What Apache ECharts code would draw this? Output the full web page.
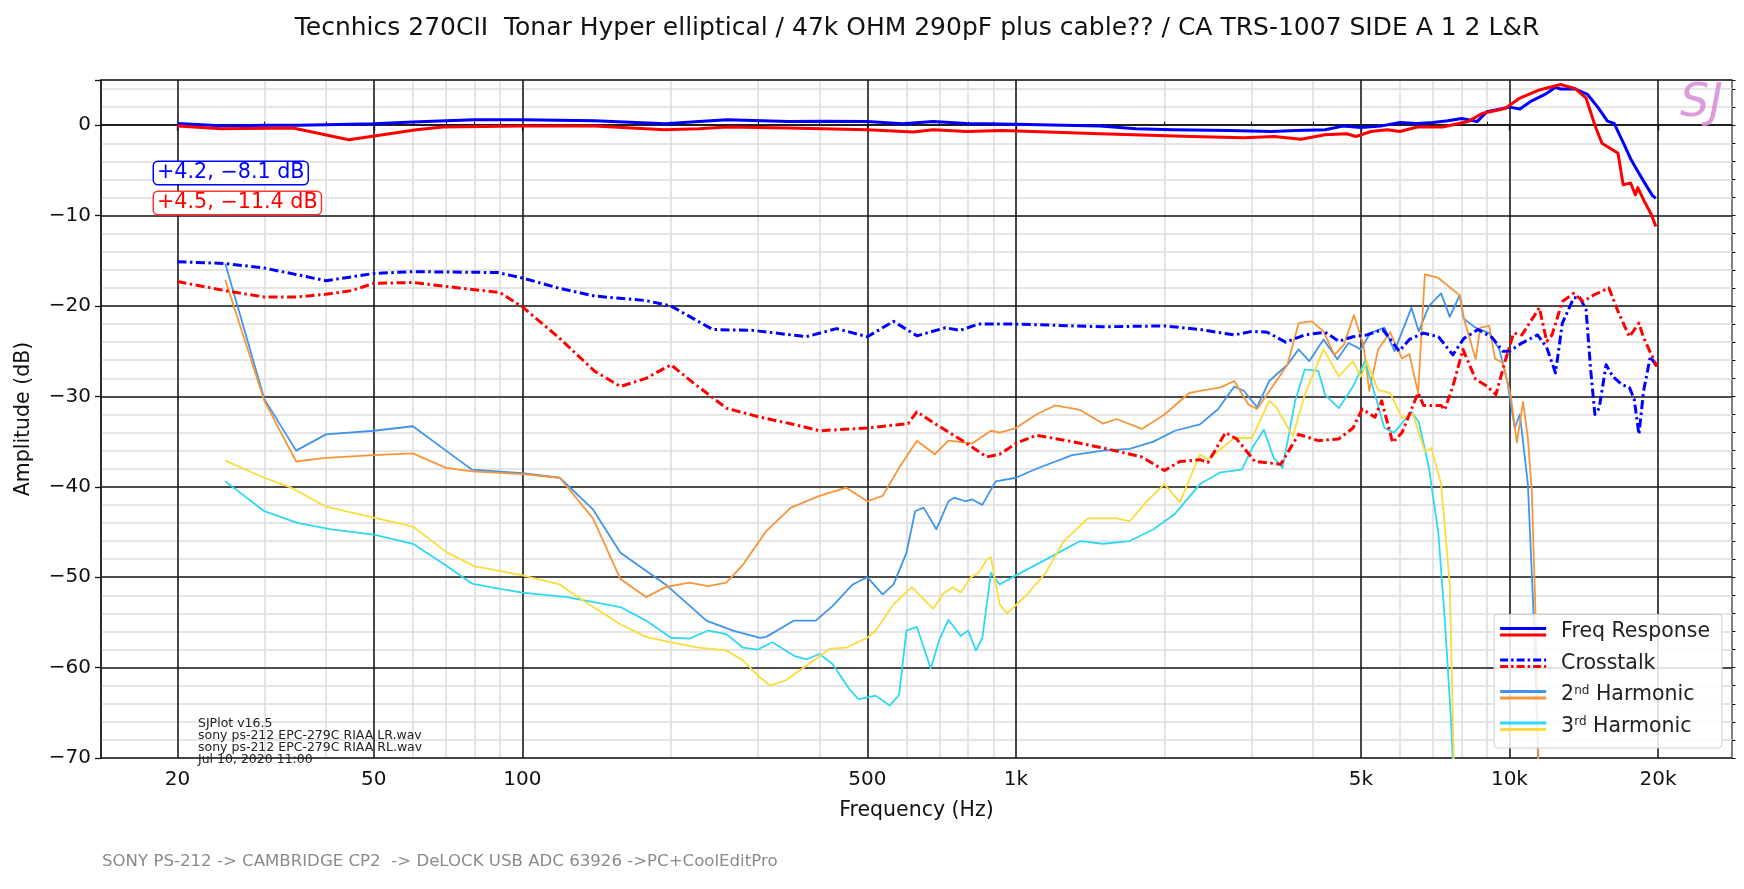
<!DOCTYPE html>
<html>
<head>
<meta charset="utf-8">
<script src="https://cdn.jsdelivr.net/npm/echarts@6/dist/echarts.min.js"></script>
<style>
html,body{margin:0;padding:0;background:#fff;}
#chart{width:1744px;height:889px;}
</style>
</head>
<body>
<div id="chart"></div>
<script>
// ---------- DATA ----------
const titleText = 'Tecnhics 270CII  Tonar Hyper elliptical / 47k OHM 290pF plus cable?? / CA TRS-1007 SIDE A 1 2 L&R';
const footerText = 'SONY PS-212 -> CAMBRIDGE CP2  -> DeLOCK USB ADC 63926 ->PC+CoolEditPro';
const infoLines = ['SJPlot v16.5', 'sony ps-212 EPC-279C RIAA LR.wav', 'sony ps-212 EPC-279C RIAA RL.wav', 'Jul 10, 2020 11:00'];
const annoL = '+4.2, \u22128.1 dB';
const annoR = '+4.5, \u221211.4 dB';
const legendNames = ['Freq Response', 'Crosstalk', '2nd Harmonic', '3rd Harmonic'];

const xMajorTicks = [20, 50, 100, 500, 1000, 5000, 10000, 20000];
const xMinorTicks = [30, 40, 60, 70, 80, 90, 200, 300, 400, 600, 700, 800, 900, 2000, 3000, 4000, 6000, 7000, 8000, 9000];

const freqL = [[20,0.2],[25,-0.1],[30,0],[35,0],[40,0.05],[50,0.15],[60,0.35],[70,0.5],[80,0.6],[100,0.6],[140,0.5],[195,0.15],[228,0.4],[260,0.6],[346,0.4],[410,0.45],[500,0.4],[590,0.15],[680,0.4],[795,0.2],[1000,0.1],[1480,-0.1],[1750,-0.4],[2080,-0.5],[2700,-0.6],[3290,-0.7],[3700,-0.6],[4230,-0.5],[4600,-0.1],[5000,-0.25],[5480,-0.1],[6000,0.3],[6500,0.2],[7000,0.3],[7500,0.5],[8000,0.75],[8600,0.4],[9000,1.5],[10000,2.0],[10500,1.8],[11100,2.7],[11800,3.4],[12400,4.2],[12700,4.0],[13600,4.0],[14400,3.4],[15100,2.0],[15800,0.45],[16300,0.2],[17100,-2.2],[17600,-3.7],[18200,-5.1],[18900,-6.6],[19500,-7.8],[19800,-8.1]];
const freqR = [[20,-0.1],[24.6,-0.4],[34.3,-0.3],[44.5,-1.6],[61,-0.5],[69,-0.2],[100,-0.1],[140,-0.1],[194,-0.5],[228,-0.4],[260,-0.2],[346,-0.3],[500,-0.5],[620,-0.75],[680,-0.5],[795,-0.7],[940,-0.6],[1480,-0.95],[2270,-1.25],[2900,-1.4],[3340,-1.25],[3780,-1.55],[4230,-1.05],[4680,-0.95],[4890,-1.25],[5240,-0.7],[5650,-0.5],[6000,-0.7],[6500,-0.2],[7330,-0.2],[8240,0.4],[8800,1.3],[9800,1.85],[10500,3.0],[11500,3.9],[12700,4.5],[13600,4.05],[14300,3.0],[14900,0],[15400,-2.0],[16600,-3.1],[17000,-6.6],[17600,-6.4],[18000,-7.7],[18200,-6.9],[18800,-8.5],[19400,-9.9],[19800,-11.2]];

const xtalkL = [[20,-15.1],[25,-15.3],[30,-15.8],[40,-17.2],[50,-16.4],[60,-16.2],[89,-16.3],[100,-16.9],[118,-18.0],[140,-18.9],[178,-19.4],[200,-20.0],[243,-22.6],[294,-22.7],[376,-23.4],[433,-22.5],[500,-23.4],[565,-21.7],[630,-23.3],[720,-22.4],[770,-22.7],[840,-22.0],[1000,-22.0],[1500,-22.3],[2000,-22.2],[2360,-22.6],[2770,-23.2],[3010,-22.8],[3230,-22.9],[3520,-24.0],[3850,-23.2],[4230,-22.9],[4510,-23.9],[4820,-23.4],[5140,-23.2],[5540,-22.6],[5980,-25.0],[6270,-23.7],[6700,-23.0],[7180,-23.4],[7680,-25.4],[8080,-23.6],[8640,-22.6],[9230,-23.5],[9700,-25.0],[10000,-25.0],[10600,-24.1],[11400,-23.2],[11900,-24.6],[12400,-27.4],[12800,-21.9],[13500,-19.1],[13900,-19.1],[14300,-20.4],[14600,-26.9],[14900,-32.0],[15200,-31.3],[15700,-26.5],[16200,-27.8],[16900,-28.7],[17500,-29.0],[17900,-30.3],[18300,-34.2],[18700,-29.4],[19300,-25.6],[19900,-26.7]];
const xtalkR = [[20,-17.3],[25,-18.3],[30,-19.0],[35,-19.0],[40,-18.7],[45,-18.3],[50,-17.5],[60,-17.4],[77,-18.1],[90,-18.5],[100,-20.1],[118,-23.4],[140,-27.2],[158,-28.9],[178,-28.0],[200,-26.5],[222,-28.5],[259,-31.3],[303,-32.3],[355,-33.1],[400,-33.8],[500,-33.5],[605,-33.0],[630,-31.7],[680,-32.9],[790,-35.1],[872,-36.7],[927,-36.4],[1000,-35.2],[1100,-34.3],[1300,-35.0],[1500,-35.7],[1800,-36.7],[2000,-38.2],[2150,-37.2],[2360,-37.0],[2450,-37.3],[2660,-34.0],[2800,-34.7],[3050,-37.2],[3440,-37.5],[3740,-34.2],[4100,-34.9],[4510,-34.7],[4820,-33.5],[5030,-31.4],[5340,-32.3],[5510,-30.5],[5800,-35.1],[6060,-34.0],[6530,-29.6],[6700,-31.0],[7270,-31.0],[7390,-31.5],[7680,-28.9],[8050,-24.8],[8540,-28.1],[9020,-28.9],[9390,-29.8],[9800,-26.1],[10200,-23.0],[10600,-23.2],[11500,-20.2],[11900,-23.9],[12200,-23.2],[12800,-19.5],[13500,-18.6],[14100,-19.5],[14800,-18.8],[15900,-18.0],[16600,-20.6],[17500,-23.4],[18300,-21.9],[18700,-23.5],[19900,-26.7]];

const h2L = [[25,-15.3],[30,-30.3],[34.8,-36.0],[40,-34.2],[50,-33.8],[60,-33.3],[70,-36.0],[79,-38.1],[100,-38.5],[119,-39.0],[139,-42.5],[158,-47.3],[195,-50.8],[236,-54.8],[267,-55.9],[303,-56.7],[312,-56.6],[355,-54.8],[393,-54.8],[425,-53.2],[467,-50.8],[500,-50.0],[537,-51.9],[565,-50.8],[600,-47.3],[625,-42.7],[650,-42.3],[690,-44.7],[730,-41.6],[750,-41.2],[790,-41.6],[815,-41.4],[855,-42.0],[910,-39.4],[1000,-39.0],[1100,-38.0],[1300,-36.5],[1500,-36.0],[1700,-35.8],[1900,-35.0],[2100,-33.8],[2360,-33.1],[2570,-31.4],[2770,-28.9],[2900,-29.4],[3080,-31.2],[3260,-28.3],[3550,-26.5],[3740,-24.8],[3930,-26.1],[4200,-23.7],[4480,-25.9],[4720,-24.1],[5000,-24.8],[5220,-23.0],[5580,-22.4],[5850,-25.0],[6330,-20.2],[6550,-22.8],[6870,-20.0],[7270,-18.6],[7570,-21.2],[7930,-18.8],[8080,-21.4],[8540,-22.4],[9100,-23.0],[9540,-24.8],[9900,-28.3],[10250,-33.5],[10500,-32.0],[10900,-39.7],[11200,-54.4],[11500,-75]];
const h2R = [[25,-17.1],[30,-30.5],[34.8,-37.2],[40,-36.8],[50,-36.5],[60,-36.3],[70,-37.9],[79,-38.3],[100,-38.6],[119,-39.0],[139,-43.5],[158,-50.2],[178,-52.2],[195,-51.1],[218,-50.6],[238,-51.0],[259,-50.6],[280,-48.6],[312,-44.9],[350,-42.3],[400,-41.0],[453,-40.1],[500,-41.6],[537,-41.0],[580,-37.9],[630,-34.9],[685,-36.4],[730,-34.9],[815,-35.2],[890,-33.8],[927,-34.0],[1000,-33.5],[1100,-32.0],[1200,-31.0],[1350,-31.5],[1500,-33.0],[1600,-32.5],[1800,-33.6],[2000,-32.0],[2250,-29.6],[2360,-29.4],[2600,-29.0],[2770,-28.3],[2960,-30.9],[3080,-31.4],[3330,-28.7],[3550,-26.5],[3740,-21.9],[3980,-21.7],[4200,-22.8],[4420,-25.4],[4620,-24.3],[4840,-21.0],[5060,-24.3],[5200,-29.4],[5420,-24.8],[5730,-22.9],[6060,-25.8],[6270,-25.3],[6530,-29.6],[6740,-16.5],[7180,-16.9],[7680,-18.2],[7930,-18.8],[8080,-21.3],[8540,-25.9],[8730,-22.4],[9100,-22.2],[9350,-25.8],[9700,-26.3],[10070,-30.0],[10350,-35.1],[10660,-30.6],[10900,-34.6],[11100,-40.5],[11300,-54.4],[11500,-75]];

const h3L = [[25,-39.4],[30,-42.7],[35,-44.0],[41,-44.7],[50,-45.3],[60,-46.3],[70,-48.7],[79,-50.7],[90,-51.3],[100,-51.7],[123,-52.2],[158,-53.3],[178,-54.8],[200,-56.7],[218,-56.8],[238,-55.9],[259,-56.3],[280,-57.8],[300,-58.0],[321,-57.2],[355,-58.7],[376,-59.1],[400,-58.5],[425,-59.6],[460,-62.4],[480,-63.5],[520,-63.1],[555,-64.2],[580,-63.0],[600,-55.9],[630,-55.5],[672,-60.1],[700,-56.9],[730,-54.7],[773,-56.5],[800,-55.9],[830,-58.1],[855,-56.7],[890,-49.5],[927,-50.8],[1000,-49.8],[1200,-47.5],[1350,-46.0],[1500,-46.3],[1700,-46.0],[1900,-44.7],[2100,-43.0],[2360,-39.7],[2600,-38.4],[2870,-38.1],[3010,-35.7],[3180,-33.7],[3330,-36.8],[3470,-37.9],[3680,-30.5],[3850,-27.0],[4100,-27.2],[4230,-29.8],[4510,-31.3],[4820,-28.9],[5100,-26.1],[5340,-29.8],[5580,-33.5],[5840,-34.0],[6330,-31.7],[6550,-32.8],[6870,-37.9],[7180,-45.2],[7390,-54.4],[7600,-65],[7750,-75]];
const h3R = [[25,-37.1],[30,-39.0],[34,-40.1],[40,-42.2],[50,-43.4],[60,-44.4],[70,-47.2],[80,-48.8],[90,-49.3],[100,-49.8],[119,-50.8],[133,-52.6],[158,-55.2],[178,-56.6],[200,-57.2],[228,-57.8],[259,-58.1],[280,-59.2],[303,-61.1],[318,-62.0],[342,-61.4],[376,-59.8],[420,-57.9],[453,-57.8],[500,-56.7],[520,-55.9],[565,-53.0],[615,-51.1],[680,-53.5],[712,-51.8],[746,-51.1],[773,-51.7],[810,-50.0],[840,-49.5],[875,-48.0],[890,-47.8],[927,-53.0],[960,-54.0],[1050,-52.0],[1150,-49.5],[1250,-46.0],[1400,-43.5],[1600,-43.5],[1700,-43.8],[1850,-41.5],[2000,-39.7],[2150,-41.7],[2360,-36.4],[2450,-37.0],[2770,-34.6],[3010,-34.6],[3260,-30.5],[3370,-31.2],[3640,-34.4],[3850,-29.8],[4200,-24.8],[4510,-27.8],[4820,-26.1],[5000,-27.8],[5140,-26.1],[5420,-29.3],[5730,-29.6],[6060,-32.4],[6380,-32.0],[6740,-36.1],[6950,-35.7],[7270,-39.7],[7570,-50.8],[7750,-75]];

// ---------- STYLE ----------
const FONT = '"DejaVu Sans", Verdana, sans-serif';
const C = {
  frL: '#0000ff', frR: '#ff0000',
  h2L: '#3f95ea', h2R: '#f7953a',
  h3L: '#2fd8f2', h3R: '#fbdc3c'
};
const DASHDOT = [9, 3.5, 2.5, 3.5];

function icon(c1, c2, dash) {
  const d = dash ? ' stroke-dasharray="8,3,2.5,3"' : '';
  const svg = '<svg xmlns="http://www.w3.org/2000/svg" width="57" height="16" viewBox="0 0 57 16">' +
    '<line x1="1" y1="4.5" x2="47" y2="4.5" stroke="' + c1 + '" stroke-width="3"' + d + '/>' +
    '<line x1="1" y1="11" x2="47" y2="11" stroke="' + c2 + '" stroke-width="3"' + d + '/></svg>';
  return 'image://data:image/svg+xml;charset=utf-8,' + encodeURIComponent(svg);
}

function mk(name, data, color, width, type, z) {
  return {
    type: 'line', name: name, data: data, xAxisIndex: 0, yAxisIndex: 0,
    showSymbol: false, symbol: 'none', clip: true, z: z,
    lineStyle: { color: color, width: width, type: type || 'solid', cap: 'butt', join: 'round' },
    itemStyle: { color: color },
    emphasis: { disabled: true }
  };
}

const fmtHz = v => v >= 1000 ? (v / 1000) + 'k' : String(v);
const fmtDb = v => (Math.round(v) % 10 === 0 && v <= 0) ? (v < 0 ? '\u2212' + (-v) : '0') : '';

const chart = echarts.init(document.getElementById('chart'), null, { renderer: 'canvas' });
const option = {
  animation: false,
  backgroundColor: '#ffffff',
  textStyle: { fontFamily: FONT },
  grid: { left: 101, right: 12, top: 80, bottom: 131, show: true, borderColor: '#555', borderWidth: 1.5, backgroundColor: '#fff' },
  xAxis: [
    {
      type: 'log', logBase: 10, min: 14, max: 28250, z: 1,
      axisLine: { show: true, lineStyle: { color: '#111', width: 1.5 } },
      axisTick: { show: true, customValues: xMajorTicks, length: 6, lineStyle: { color: '#111', width: 1.3 } },
      axisLabel: { show: true, customValues: xMajorTicks, formatter: fmtHz, fontSize: 20, color: '#111', margin: 12, fontFamily: FONT },
      splitLine: { show: true, lineStyle: { color: '#1a1a1a', width: 1.6 } },
      minorTick: { show: false }, minorSplitLine: { show: false },
      name: 'Frequency (Hz)', nameLocation: 'middle', nameGap: 42,
      nameTextStyle: { fontSize: 20.5, color: '#111', fontFamily: FONT }
    },
    {
      type: 'log', logBase: 10, min: 14, max: 28250, z: 0,
      axisLine: { show: false },
      axisTick: { show: true, customValues: xMinorTicks, length: 3.5, lineStyle: { color: '#111', width: 1 } },
      axisLabel: { show: false },
      splitLine: { show: true, lineStyle: { color: '#dcdcdc', width: 1.5 } }
    }
  ],
  yAxis: [
    {
      type: 'value', min: -70, max: 5, interval: 10, z: 1,
      axisLine: { show: true, lineStyle: { color: '#111', width: 1.5 } },
      axisTick: { show: true, length: 6, lineStyle: { color: '#111', width: 1.3 } },
      axisLabel: { formatter: fmtDb, fontSize: 20, color: '#111', margin: 10, fontFamily: FONT },
      splitLine: { show: true, lineStyle: { color: '#1a1a1a', width: 1.6 } },
      name: 'Amplitude (dB)', nameLocation: 'middle', nameGap: 67, nameRotate: 90,
      nameTextStyle: { fontSize: 20.5, color: '#111', fontFamily: FONT }
    },
    {
      type: 'value', min: -70, max: 5, interval: 2, z: 0,
      axisLine: { show: false },
      axisTick: { show: true, length: 3.5, lineStyle: { color: '#111', width: 1 } },
      axisLabel: { show: false },
      splitLine: { show: true, lineStyle: { color: '#dcdcdc', width: 1.5 } }
    }
  ],
  legend: {
    orient: 'vertical', right: 22, bottom: 141,
    padding: [7, 12, 11, 5], itemGap: 10.5, itemWidth: 57, itemHeight: 16,
    backgroundColor: 'rgba(255,255,255,0.85)', borderColor: '#cfcfcf', borderWidth: 1, borderRadius: 4,
    selectedMode: false,
    data: [
      { name: legendNames[0], icon: icon(C.frL, C.frR, false) },
      { name: legendNames[1], icon: icon(C.frL, C.frR, true) },
      { name: legendNames[2], icon: icon(C.h2L, C.h2R, false) },
      { name: legendNames[3], icon: icon(C.h3L, C.h3R, false) }
    ],
    formatter: function (n) {
      if (n === legendNames[2]) return '2{sup|nd} Harmonic';
      if (n === legendNames[3]) return '3{sup|rd} Harmonic';
      return n;
    },
    textStyle: {
      fontSize: 20.5, color: '#222', fontFamily: FONT,
      rich: { sup: { fontSize: 12, verticalAlign: 'top', color: '#222', fontFamily: FONT, padding: [0, 0, 6, 0] } }
    }
  },
  graphic: [
    { type: 'text', x: 917, y: 28, z: 10, style: { text: titleText, fill: '#111', font: '25px ' + FONT, align: 'center', verticalAlign: 'middle' } },
    { type: 'text', x: 102, y: 862, z: 10, style: { text: footerText, fill: '#8a8a8a', font: '16.6px ' + FONT, align: 'left', verticalAlign: 'middle' } },
    { type: 'text', x: 154, y: 173, z: 10, style: { text: annoL, fill: '#0000ff', font: '20.7px ' + FONT, align: 'left', verticalAlign: 'middle', backgroundColor: '#fff', borderColor: '#0000ff', borderWidth: 1.5, borderRadius: 4, padding: [1, 3, 0, 3] } },
    { type: 'text', x: 154, y: 203, z: 10, style: { text: annoR, fill: '#ff0000', font: '20.7px ' + FONT, align: 'left', verticalAlign: 'middle', backgroundColor: '#fff', borderColor: '#ff3333', borderWidth: 1.5, borderRadius: 4, padding: [1, 3, 0, 3] } },
    { type: 'text', x: 1680, y: 104, z: 10, style: { text: 'SJ', fill: '#d98fd9', font: 'italic 46px ' + FONT, align: 'left', verticalAlign: 'middle', opacity: 0.9 } },
    { type: 'text', x: 198, y: 724, z: 10, style: { text: infoLines[0], fill: '#222', font: '12.5px ' + FONT, align: 'left', verticalAlign: 'middle' } },
    { type: 'text', x: 198, y: 736, z: 10, style: { text: infoLines[1], fill: '#222', font: '12.5px ' + FONT, align: 'left', verticalAlign: 'middle' } },
    { type: 'text', x: 198, y: 748, z: 10, style: { text: infoLines[2], fill: '#222', font: '12.5px ' + FONT, align: 'left', verticalAlign: 'middle' } },
    { type: 'text', x: 198, y: 760, z: 10, style: { text: infoLines[3], fill: '#222', font: '12.5px ' + FONT, align: 'left', verticalAlign: 'middle' } }
  ],
  series: [
    mk(legendNames[0], freqL, C.frL, 3, 'solid', 5),
    mk(legendNames[0], freqR, C.frR, 3, 'solid', 5),
    mk(legendNames[1], xtalkL, C.frL, 3, DASHDOT, 4),
    mk(legendNames[1], xtalkR, C.frR, 3, DASHDOT, 4),
    mk(legendNames[2], h2L, C.h2L, 1.8, 'solid', 3),
    mk(legendNames[2], h2R, C.h2R, 1.8, 'solid', 3),
    mk(legendNames[3], h3L, C.h3L, 1.8, 'solid', 3),
    mk(legendNames[3], h3R, C.h3R, 1.8, 'solid', 3)
  ]
};
chart.setOption(option);
</script>
</body>
</html>
